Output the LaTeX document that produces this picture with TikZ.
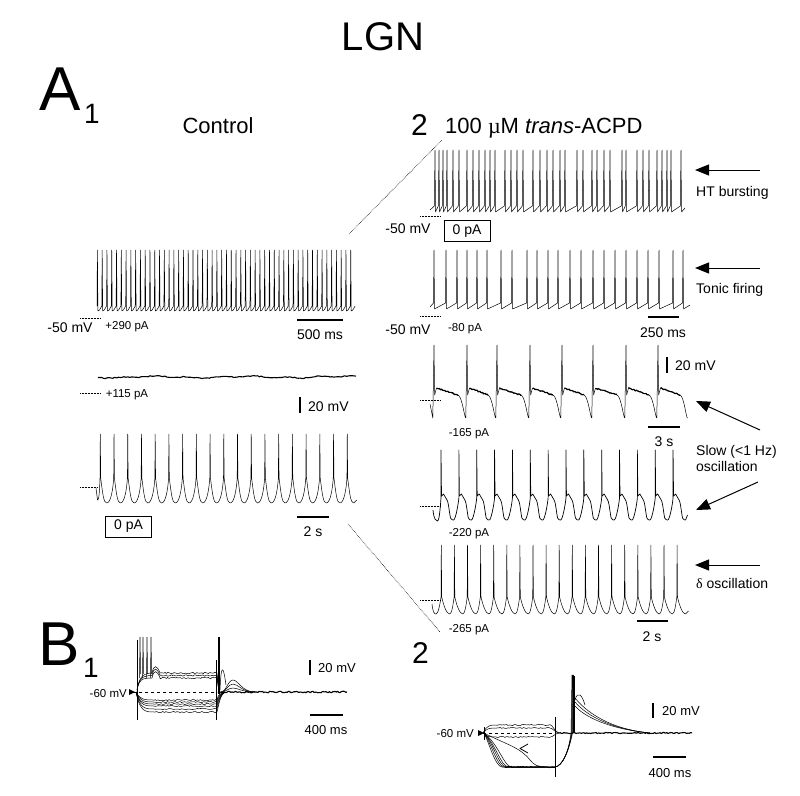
\documentclass[tikz,border=0pt]{standalone}
\usepackage{fontspec}
\setmainfont{Liberation Sans}
\newfontfamily\greekfont{Liberation Serif}
\usetikzlibrary{arrows.meta}

\tikzset{
  trace/.style={line width=0.5pt, line join=round},
  heavytrace/.style={line width=1.1pt, line join=round},
  restline/.style={densely dotted, line width=0.5pt},
  zoomline/.style={densely dotted, line width=0.6pt},
  scalebar/.style={line width=1.8pt},
  pointer/.style={line width=1pt, -{Triangle[length=14pt,width=11pt]}},
  panel/.style={font=\fontsize{62}{65}\selectfont, inner sep=0, anchor=base west},
  subpanel/.style={font=\fontsize{28}{30}\selectfont, inner sep=0, anchor=base west},
  heading/.style={font=\fontsize{22}{24}\selectfont, inner sep=0},
  lbl/.style={font=\fontsize{14}{16}\selectfont, inner sep=0},
  smalllbl/.style={font=\fontsize{11.5}{13}\selectfont, inner sep=0},
  holdbox/.style={draw, line width=0.6pt, minimum width=46pt, minimum height=21pt,
    font=\fontsize{14}{16}\selectfont, inner sep=0},
}

\begin{document}
\begin{tikzpicture}[x=1pt,y=-1pt]
\useasboundingbox (0,0) rectangle (800,795);

% headings
\node[font=\fontsize{40}{44}\selectfont, inner sep=0] (lgn) at (383,37) {LGN};
\node[panel] (pA) at (39,110) {A};
\node[subpanel] (pAone) at (84,123) {1};
\node[heading, anchor=base] (ctrl) at (218,133) {Control};
\node[subpanel, font=\fontsize{30}{32}\selectfont] (pAtwo) at (411,135) {2};
\node[heading, anchor=base west] (acpd) at (445,133) {100 {\greekfont µ}M \textit{trans}-ACPD};

% ---- A1, control ----
\draw[trace] (97,306) \foreach \i in {1,...,54}{ -- ++(0.4,-56) -- ++(0.5,61) -- ++(1.6,-1) -- ++(2.28,-4) };
\draw[restline] (80,318) -- (100,318);
\node[lbl, anchor=base] (restAa) at (70,332) {-50 mV};
\node[smalllbl, anchor=base] (holdAa) at (127,329) {+290 pA};
\draw[scalebar] (297,320) -- (343,320);
\node[lbl, anchor=base] (barAa) at (320,339) {500 ms};

\draw[heavytrace] plot[domain=98:356, samples=140] (\x,{377+0.5*rand+0.7*sin(4*\x)+0.5*sin(11*\x)});
\draw[restline] (80,393) -- (100,393);
\node[smalllbl, anchor=base] (holdAb) at (127,397) {+115 pA};
\draw[scalebar] (300,397) -- (300,413);
\node[lbl, anchor=base west] (barAb) at (308,411) {20 mV};

\draw[trace] (96,488) -- (97.5,500) .. controls (99,501) and (99.6,490) .. (100,478)
  \foreach \i in {1,...,18}{ -- ++(0.3,-44) -- ++(0.4,44) .. controls +(2,16) and +(-3,0) .. ++(6,25) .. controls +(4,0) and +(-0.8,12) .. ++(7.02,-25) }
  -- ++(0.3,-44) -- ++(0.4,44) .. controls +(2,16) and +(-3,0) .. ++(6,25) -- ++(3,-3);
\draw[restline] (80,487) -- (98,487);
\node[holdbox] (zeroA) at (128.5,526.5) {0 pA};
\draw[scalebar] (297,517) -- (329,517);
\node[lbl, anchor=base] (barAc) at (313,536) {2 s};

% zoom guides
\coordinate (zoomTopA) at (349,234);
\coordinate (zoomTopB) at (442,140);
\coordinate (zoomBotA) at (348,524);
\coordinate (zoomBotB) at (440,632);
\draw[zoomline] (zoomTopA) -- (zoomTopB);
\draw[zoomline] (zoomBotA) -- (zoomBotB);

% ---- A2, trans-ACPD ----
\draw[trace] (430,210) \foreach \s in {435,439,443,447,453,459,467,473,479,485,490,495,505,511,517,523,533,540,547,553,560,565,577,583,592,597,604,610,622,626,637,643,649,657,662,667,671,681}{ -- (\s-0.7,206) -- (\s,150) -- (\s+0.5,212) } -- (685,208);
\draw[restline] (420,216) -- (440,216);
\node[lbl, anchor=base] (restBa) at (408,233) {-50 mV};
\node[holdbox] (zeroB) at (467,231) {0 pA};
\coordinate (htTail) at (760,170);
\coordinate (htTip) at (695,170);
\draw[pointer] (htTail) -- (htTip);
\node[lbl, anchor=base west] (htlbl) at (696,196) {HT bursting};

\draw[trace] (430,307) \foreach \s in {434,446,457,467,477,487,501,512,527,537,548,558,570,581,593,604,615,626,637,648,659,673,683}{ -- (\s-0.5,303) -- (\s,250) -- (\s+0.5,309) } -- (690,305);
\draw[restline] (420,316) -- (440,316);
\node[lbl, anchor=base] (restBb) at (408,334) {-50 mV};
\node[smalllbl, anchor=base] (holdBb) at (465,331) {-80 pA};
\draw[scalebar] (648,317) -- (679,317);
\node[lbl, anchor=base] (barBb) at (663,337) {250 ms};
\coordinate (tonicTail) at (760,268);
\coordinate (tonicTip) at (695,268);
\draw[pointer] (tonicTail) -- (tonicTip);
\node[lbl, anchor=base west] (toniclbl) at (696,293) {Tonic firing};

\draw[trace] (430,404) -- (432.8,418) \foreach \s/\e in {434/467,467/497,497/530,530/562,562/593,593/626,626/658}{ -- (\s,345) -- (\s+0.6,395) -- (\s+2.5,388) -- (\e-9,395) .. controls (\e-5,396) and (\e-2.5,418) .. (\e-1.2,418) }
  -- (658,345) -- (658.6,395) -- (660.5,388) -- (680,395) .. controls (684,396) and (686,418) .. (687.5,418);
\foreach \s/\e in {434/467,467/497,497/530,530/562,562/593,593/626,626/658,658/689}
  \draw[heavytrace] plot[domain=\s+2.5:\e-9, samples=22] (\x,{388+7*(\x-\s-2.5)/(\e-\s-11.5)+0.7*rand});
\draw[restline] (420,400) -- (440,400);
\node[smalllbl, anchor=base] (holdBc) at (469,436) {-165 pA};
\draw[scalebar] (667,357) -- (667,373);
\node[lbl, anchor=base west] (barBc) at (675,370) {20 mV};
\draw[scalebar] (648,427) -- (680,427);
\node[lbl, anchor=base] (barBd) at (664,446) {3 s};
\coordinate (slowTailA) at (760,430);
\coordinate (slowTipA) at (696,401);
\coordinate (slowTailB) at (758,482);
\coordinate (slowTipB) at (696,510);
\draw[pointer] (slowTailA) -- (slowTipA);
\draw[pointer] (slowTailB) -- (slowTipB);
\node[lbl, anchor=base west] (slowlbl) at (696,455) {Slow (<1 Hz)};
\node[lbl, anchor=base west] (osclbl) at (696,471) {oscillation};

\draw[trace, line width=0.7pt] (433,510) .. controls (434,520) and (436,521) .. (437.5,521) .. controls (439.5,521) and (440.5,504) .. (441,498)
  \foreach \i in {1,...,13}{ -- ++(0,-48) -- ++(0.5,46) -- ++(2,-2) -- ++(3.5,6) .. controls +(1.5,2) and +(-1,-4) .. ++(3.5,18) .. controls +(1,2) and +(-1,0) .. ++(3,2) .. controls +(2,0) and +(-0.5,6) .. ++(5.35,-22) }
  -- ++(0,-48) -- ++(0.5,46) -- ++(2,-2) -- ++(3.5,6) .. controls +(1.5,2) and +(-1,-4) .. ++(3.5,18) .. controls +(1,2) and +(-1,0) .. ++(3,2) -- ++(2,-5);
\draw[restline] (420,506) -- (440,506);
\node[smalllbl, anchor=base] (holdBd) at (469,536) {-220 pA};

\draw[trace] (432,604) .. controls (433,612) and (434,614) .. (436,614) .. controls (438,614) and (440,605) .. (441,597)
  \foreach \i in {1,...,18}{ -- ++(0.3,-52) -- ++(0.4,52) .. controls +(2,9) and +(-3,0) .. ++(8,17) .. controls +(2,0) and +(-1,8) .. ++(4.4,-17) }
  -- ++(0.3,-52) -- ++(0.4,52) .. controls +(2,9) and +(-3,0) .. ++(8,17) -- ++(3,-3);
\draw[restline] (420,600) -- (440,600);
\node[smalllbl, anchor=base] (holdBe) at (469,632) {-265 pA};
\draw[scalebar] (637,621) -- (668,621);
\node[lbl, anchor=base] (barBe) at (652,641) {2 s};
\coordinate (deltaTail) at (760,565);
\coordinate (deltaTip) at (695,565);
\draw[pointer] (deltaTail) -- (deltaTip);
\node[lbl, anchor=base west] (deltalbl) at (696,588) {{\greekfont δ} oscillation};

% ---- B1 ----
\node[panel] (pB) at (38,665) {B};
\node[subpanel] (pBone) at (83,677) {1};
\draw[dashed, line width=0.7pt] (133,692) -- (217,692);
\fill (129,689) -- (135,692) -- (129,695) -- cycle;
\node[smalllbl, anchor=base east] (restCa) at (127,697) {-60 mV};
\draw[trace] (137,640) -- (137,720);
\draw[trace] (216,660) -- (216,720);
\foreach \s in {140,143,147,151}
  \draw[trace] (\s-0.5,678) -- (\s,637) -- (\s+0.6,674);
\foreach \y in {673,675.5,678}
  \draw[trace] (137,690) .. controls (139,680) and (141,\y) .. (152,\y) .. controls (154,\y-9) and (157,\y-8) .. (160,\y) -- plot[domain=160:216, samples=45] (\x,{\y+0.8*rand}) -- (217,\y) -- (219,692);
\foreach \y in {700,702,704,706,709,712}
  \draw[trace] (136,692) .. controls (140,\y) and (145,\y) .. (155,\y) -- plot[domain=155:216, samples=40] (\x,{\y+0.6*rand}) -- (217,\y) .. controls (219,\y-8) and (220,695) .. (225,692);
\draw[line width=2pt] (219,637) -- (219,694);
\draw[trace] (220,690) .. controls (221,665) and (223,663) .. (226,685);
\foreach \h in {680,684,688}
  \draw[trace] (221,692) .. controls (226,692) and (228,\h) .. (233,\h) .. controls (238,\h) and (242,692) .. (255,692);
\draw[heavytrace] plot[domain=219:347, samples=110] (\x,{692+0.8*rand});
\draw[scalebar] (310,660) -- (310,675);
\node[font=\fontsize{13}{15}\selectfont, inner sep=0, anchor=base west] (barCa) at (318,672) {20 mV};
\draw[scalebar] (310,715) -- (343,715);
\node[font=\fontsize{13}{15}\selectfont, inner sep=0, anchor=base] (barCb) at (326,734) {400 ms};

% ---- B2 ----
\node[subpanel, font=\fontsize{30}{32}\selectfont] (pBtwo) at (412,663) {2};
\draw[dashed, line width=0.7pt] (483,733) -- (555,733);
\fill (478,730) -- (484,733) -- (478,736) -- cycle;
\node[smalllbl, anchor=base east] (restCb) at (474,737) {-60 mV};
\draw[trace] (484,727) -- (484,740);
\draw[trace] (555,717) -- (555,777);
\foreach \y in {725,728,737}
  \draw[trace] (483,733) .. controls (487,\y) and (490,\y) .. (497,\y) -- plot[domain=497:550, samples=35] (\x,{\y+0.6*rand}) .. controls (553,\y) and (555,733) .. (560,733);
\foreach \d in {0,2,4,6,9}
  \draw[trace] (484,733) .. controls (490+\d,745) and (495+\d,766) .. (502+\d,767) -- (555,767);
\draw[trace] (484,733) .. controls (505,744) and (520,747) .. (530,760) .. controls (534,765) and (538,767) .. (545,767);
\draw[heavytrace] plot[domain=505:555, samples=40] (\x,{767+0.6*rand});
\foreach \o in {0,1,2,3}
  \draw[trace] (555,767) .. controls (563,766) and (569,750) .. (571+\o*0.5,733) -- (572+\o*0.5,675) -- (573.5+\o*0.5,700);
\draw[line width=2pt] (573.5,676) -- (573.5,733);
\foreach \y in {698,702,706}
  \draw[trace] (575,\y) .. controls (580,\y+6) and (600,728) .. (650,733);
\draw[trace] (575,700) .. controls (578,690) and (582,695) .. (585,705);
\draw[heavytrace] plot[domain=560:692, samples=100] (\x,{733+0.6*rand});
\draw[trace, line width=0.8pt] (528,744) -- (520,748.5) -- (528,753);
\draw[scalebar] (653,703) -- (653,718);
\node[font=\fontsize{13}{15}\selectfont, inner sep=0, anchor=base west] (barCc) at (662,715) {20 mV};
\draw[scalebar] (653,757) -- (686,757);
\node[font=\fontsize{13}{15}\selectfont, inner sep=0, anchor=base] (barCd) at (670,777) {400 ms};
\end{tikzpicture}
\end{document}
